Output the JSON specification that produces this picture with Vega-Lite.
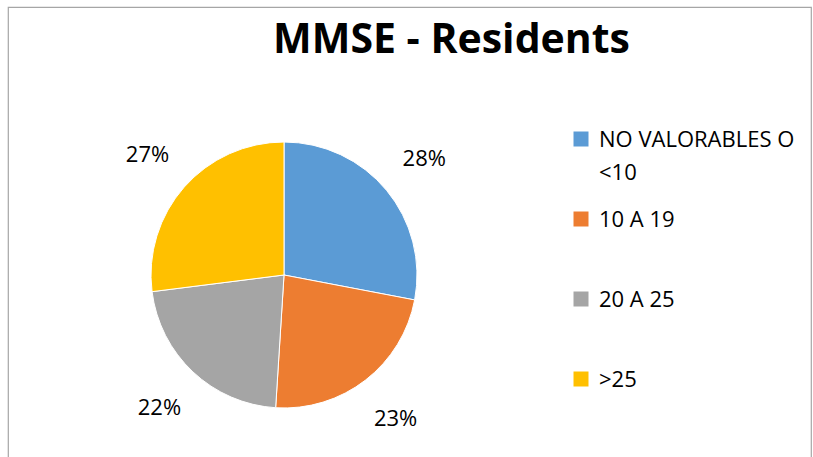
{
  "$schema": "https://vega.github.io/schema/vega-lite/v6.json",
  "autosize": "none",
  "width": 803,
  "height": 460,
  "padding": {"left": 8, "top": 7, "right": 2, "bottom": 0},
  "background": "white",
  "view": {"stroke": "#a6a6a6", "strokeWidth": 1.2},
  "config": {
    "style": {
      "guide-label": {"lineHeight": 33, "dy": 8}
    }
  },
  "title": {
    "text": "MMSE - Residents",
    "font": "Open Sans",
    "fontWeight": "bold",
    "fontSize": 41,
    "color": "#000000",
    "anchor": "middle",
    "frame": "group",
    "dx": 42,
    "offset": -55
  },
  "data": {
    "values": [
      {"category": "NO VALORABLES O <10", "value": 28, "label": "28%", "order": 1},
      {"category": "10 A 19", "value": 23, "label": "23%", "order": 2},
      {"category": "20 A 25", "value": 22, "label": "22%", "order": 3},
      {"category": ">25", "value": 27, "label": "27%", "order": 4}
    ]
  },
  "encoding": {
    "theta": {"field": "value", "type": "quantitative", "stack": true},
    "order": {"field": "order", "type": "quantitative"},
    "color": {
      "field": "category",
      "type": "nominal",
      "sort": ["NO VALORABLES O <10", "10 A 19", "20 A 25", ">25"],
      "scale": {
        "domain": ["NO VALORABLES O <10", "10 A 19", "20 A 25", ">25"],
        "range": ["#5B9BD5", "#ED7D31", "#A5A5A5", "#FFC000"]
      },
      "legend": {
        "title": null,
        "orient": "none",
        "legendX": 562,
        "legendY": 121,
        "symbolType": "square",
        "symbolSize": 225,
        "symbolStrokeWidth": 0,
        "labelFont": "Open Sans",
        "labelFontSize": 22,
        "labelColor": "#000000",
        "labelLimit": 300,
        "labelOffset": 7,
        "labelBaseline": "alphabetic",
        "gridAlign": "all",
        "rowPadding": 24,
        "labelExpr": "datum.label == 'NO VALORABLES O <10' ? ['NO VALORABLES O', '<10'] : datum.label"
      }
    }
  },
  "layer": [
    {
      "mark": {"type": "arc", "x": 276, "y": 268, "outerRadius": 133, "stroke": "white", "strokeWidth": 1}
    },
    {
      "mark": {"type": "text", "x": 276, "y": 268, "radius": 182, "font": "Open Sans", "fontSize": 22, "color": "#000000"},
      "encoding": {
        "text": {"field": "label", "type": "nominal"},
        "color": {"value": "#000000"}
      }
    }
  ]
}
